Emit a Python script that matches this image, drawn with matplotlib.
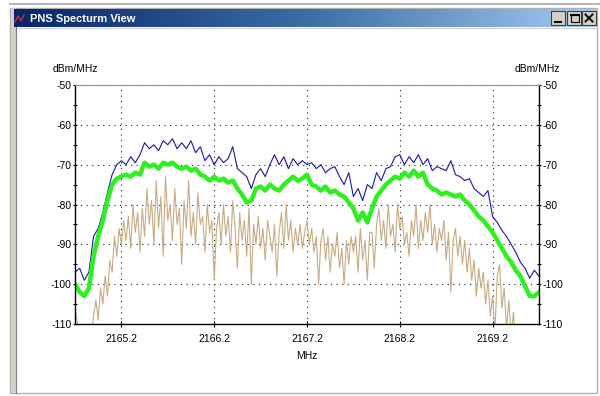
import numpy as np
import matplotlib
matplotlib.use("Agg")
import matplotlib.pyplot as plt
from matplotlib.patches import Rectangle
from matplotlib.colors import LinearSegmentedColormap

# span of the trace in MHz
freq_start = 2164.7
freq_stop = 2169.7

x_ticks = [2165.2, 2166.2, 2167.2, 2168.2, 2169.2]
y_ticks = [-110, -100, -90, -80, -70, -60, -50]

# max-hold trace (blue), one point every 0.05 MHz
blue_dbm = [
    -97, -96, -99, -97, -88, -86, -82, -77, -72.5, -70,
    -69, -70, -68, -69.5, -67.5, -64.5, -66, -65, -66.5, -64,
    -65, -63.5, -66, -64.5, -66, -64, -67, -65.5, -69, -67.5,
    -70, -68, -69.5, -68.5, -65.5, -71, -72, -73, -76, -72.5,
    -71, -73, -70, -67.5, -70, -68, -71, -68.5, -70, -69,
    -70, -69.5, -71, -70, -72, -71, -70.5, -73, -75, -72,
    -78, -76, -79, -75, -76, -72, -74, -71, -70.5, -68,
    -67.5, -70, -68, -69.5, -67.5, -70, -68.5, -71.5, -70.5, -71,
    -71.5, -69, -72.5, -73, -74, -73.5, -76, -77, -78, -76.5,
    -83, -84.5, -86.5, -88, -90, -92, -94.5, -96, -98.5, -96.5,
    -98,
]

# average trace (green), one point every 0.05 MHz
green_dbm = [
    -100, -102, -103, -101, -93, -88, -84, -79, -75, -73.5,
    -73, -72.5, -73, -72, -72.5, -69.5, -70.5, -70, -71, -69.5,
    -70, -69.5, -70.5, -71, -70.5, -71.5, -71, -72.5, -73, -74,
    -73, -74, -73.5, -74.5, -74, -76, -77.5, -79.5, -79, -76,
    -75.5, -76.5, -75, -76, -76.5, -75, -74, -73, -74, -73.5,
    -72.5, -75, -75.5, -76.5, -75.5, -77, -76.5, -77.5, -78, -79.5,
    -81, -84, -82, -84.5, -81, -78, -76.5, -75, -74, -73,
    -73.5, -72, -73, -71.5, -73, -72, -75, -76, -76.5, -77.5,
    -77, -77.5, -78, -77.5, -79, -80, -81.5, -83, -84, -85.5,
    -87, -89, -91, -93, -94.5, -96.5, -98, -100.5, -103, -103,
    -102,
]

# live trace (tan), one point every 0.025 MHz
live_dbm = [
    -106, -110, -114, -116, -115, -112, -110, -113,
    -108, -104, -109, -101, -105, -98, -103, -94,
    -97, -88, -93, -86, -90, -84, -89, -83,
    -91, -80, -87, -82, -92, -81, -88, -76,
    -85, -79, -90, -74, -86, -78, -93, -73,
    -84, -80, -89, -76, -85, -81, -95, -79,
    -86, -74, -88, -82, -90, -77, -85, -83,
    -92, -80, -87, -84, -99, -86, -82, -90,
    -80, -88, -83, -92, -79, -86, -96, -82,
    -89, -84, -93, -81, -100, -85, -90, -83,
    -91, -86, -94, -84, -88, -92, -85, -98,
    -87, -82, -91, -80, -89, -84, -92, -86,
    -90, -85, -91, -87, -84, -90, -86, -92,
    -88, -100, -89, -86, -94, -88, -97, -90,
    -93, -87, -96, -91, -100, -89, -95, -88,
    -92, -88, -97, -86, -94, -89, -99, -87,
    -87, -96, -85, -81, -89, -84, -91, -80,
    -88, -85, -92, -80, -86, -83, -90, -87,
    -93, -84, -88, -80, -91, -84, -89, -82,
    -87, -80, -90, -85, -92, -86, -89, -84,
    -94, -87, -102, -89, -86, -93, -88, -95,
    -89, -97, -91, -99, -94, -103, -96, -101,
    -97, -105, -99, -108, -103, -112, -98, -95,
    -106, -101, -111, -104, -113, -107, -115, -112,
    -116, -114, -118, -116, -119, -117, -118, -120,
    -119,
]


def main():
    plt.rcParams['font.family'] = ['Liberation Sans', 'DejaVu Sans']
    plt.rcParams['axes.unicode_minus'] = False
    W, H = 600, 396
    fig = plt.figure(figsize=(W / 100, H / 100), dpi=100)

    # window chrome in pixel coordinates
    bg = fig.add_axes([0, 0, 1, 1])
    bg.set_axis_off()
    bg.plot([10, 600], [4, 4], color='#b8b8b8', lw=1.5)
    bg.add_patch(Rectangle((10, 8), 587, 385, facecolor='white',
                           edgecolor='#b0b0b0', lw=1))
    # left frame strip
    bg.add_patch(Rectangle((10.5, 8), 5, 385, facecolor='#d4d0c8',
                           edgecolor='none'))
    bg.plot([15.5, 15.5], [27, 393], color='#808080', lw=0.8)
    bg.plot([17, 597], [28, 28], color='#d0d0d0', lw=0.8)
    cmap = LinearSegmentedColormap.from_list('title', ['#0a246a', '#3a6ea5', '#a6caf0'])
    bg.imshow(np.linspace(0, 1, 256)[None, :], cmap=cmap,
              extent=[14, 597, 27, 9], aspect='auto', zorder=2)
    bg.plot([15, 18, 21, 24], [22, 16, 21, 15], color='#c03030', lw=1, zorder=3)
    bg.text(30, 18.5, 'PNS Specturm View', color='white', fontweight='bold',
            fontsize=8, va='center', zorder=4)
    for x0 in (551, 567, 582):
        bg.add_patch(Rectangle((x0, 11), 14, 14, facecolor='#d4d0c8',
                               edgecolor='#404040', lw=0.8, zorder=3))
    bg.plot([555, 561], [21.5, 21.5], color='k', lw=1.5, zorder=4)
    bg.add_patch(Rectangle((570.5, 14.5), 8, 7, fill=False, edgecolor='k',
                           lw=0.8, zorder=4))
    bg.plot([570.5, 578.5], [15, 15], color='k', lw=1.5, zorder=4)
    bg.plot([585.5, 592.5], [14.5, 21.5], color='k', lw=1.4, zorder=4)
    bg.plot([585.5, 592.5], [21.5, 14.5], color='k', lw=1.4, zorder=4)
    bg.set_xlim(0, W)
    bg.set_ylim(H, 0)

    # spectrum plot
    ax = fig.add_axes([75 / W, 1 - 324 / H, 464 / W, 239 / H])
    f_avg = np.linspace(freq_start, freq_stop, len(blue_dbm))
    f_live = np.linspace(freq_start, freq_stop, len(live_dbm))
    ax.plot(f_live, live_dbm, color='#c8ab85', lw=0.8)
    ax.plot(f_avg, blue_dbm, color='#1818a8', lw=0.8)
    ax.plot(f_avg, green_dbm, color='#2ef01e', lw=3.2)

    ax.set_xlim(freq_start, freq_stop)
    ax.set_ylim(-110, -50)
    ax.set_xticks(x_ticks)
    ax.set_xticklabels([f"{t:.1f}" for t in x_ticks])
    ax.set_yticks(y_ticks)
    ax.set_yticks(np.arange(-105, -50, 10), minor=True)
    ax.tick_params(axis='y', which='both', left=True, right=True,
                   labelleft=True, labelright=True, direction='inout',
                   length=3, width=0.8, labelsize=7.5, pad=1)
    ax.tick_params(axis='x', direction='inout', length=4, width=0.8,
                   labelsize=7.5, pad=5)
    ax.grid(True, which='major', color='#202020', ls=(0, (1, 4)), lw=0.8)
    ax.set_xlabel('MHz', fontsize=7.5, labelpad=5.5)
    ax.spines['top'].set_color('#909090')
    for side in ('left', 'right', 'bottom'):
        ax.spines[side].set_linewidth(1)

    fig.text(75 / W, 1 - 69 / H, 'dBm/MHz', ha='center', va='center', fontsize=7.5)
    fig.text(537 / W, 1 - 69 / H, 'dBm/MHz', ha='center', va='center', fontsize=7.5)

    fig.savefig("out.png", dpi=100)


if __name__ == "__main__":
    main()
